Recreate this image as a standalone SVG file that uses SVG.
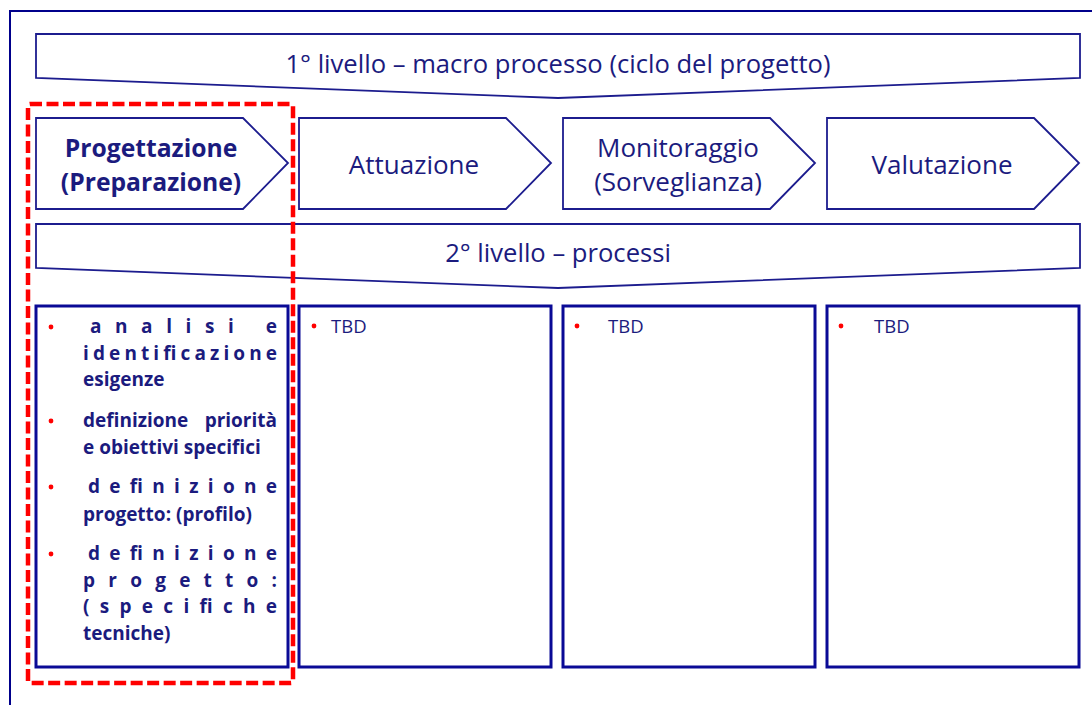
<svg xmlns="http://www.w3.org/2000/svg" width="1092" height="705" viewBox="0 0 1092 705">
<style>
.sh{fill:#fff;stroke:#1c1c8e;stroke-width:1.8;stroke-linejoin:miter}
.box{fill:#fff;stroke:#0a0a96;stroke-width:3}
.t{font-family:"Open Sans","Liberation Sans",sans-serif;fill:#1b1b7e}
.ban{font-size:25.6px}
.big{font-size:26px}
.bb{font-size:24.7px;font-weight:bold}
.bt{font-size:19px;font-weight:bold}
.st{font-size:18.5px}
.dot{fill:#ff0000}
</style>
<rect width="1092" height="705" fill="#fff"/>
<g id="frame"><rect x="10" y="11" width="1100" height="720" fill="none" stroke="#00008b" stroke-width="2"/></g>
<g id="level1">
<polygon class="sh" points="36,34 1080,34 1080,78 558,98 36,78"/>
<text class="t ban" x="558" y="73" text-anchor="middle">1° livello – macro processo (ciclo del progetto)</text>
</g>
<g id="progettazione">
<polygon class="sh" points="36,118 243,118 288,163 243,209 36,209"/>
<text class="t bb" x="151" y="157" text-anchor="middle">Progettazione</text>
<text class="t bb" x="151" y="191" text-anchor="middle">(Preparazione)</text>
</g>
<g id="attuazione">
<polygon class="sh" points="299,118 506,118 551,163 506,209 299,209"/>
<text class="t big" x="414" y="174" text-anchor="middle">Attuazione</text>
</g>
<g id="monitoraggio">
<polygon class="sh" points="563,118 770,118 815,163 770,209 563,209"/>
<text class="t big" x="678" y="157" text-anchor="middle">Monitoraggio</text>
<text class="t big" x="678" y="191" text-anchor="middle">(Sorveglianza)</text>
</g>
<g id="valutazione">
<polygon class="sh" points="827,118 1034,118 1079,163 1034,209 827,209"/>
<text class="t big" x="942" y="174" text-anchor="middle">Valutazione</text>
</g>
<g id="level2">
<polygon class="sh" points="36,224 1080,224 1080,268 558,288 36,268"/>
<text class="t ban" x="558" y="262" text-anchor="middle">2° livello – processi</text>
</g>
<g id="box1">
<rect class="box" x="36" y="306" width="252" height="361"/>
<circle class="dot" cx="51" cy="327" r="2.4"/>
<text class="t bt" x="90" y="333" textLength="187" lengthAdjust="spacing">analisi e</text>
<text class="t bt" x="83" y="360" textLength="194" lengthAdjust="spacing">identificazione</text>
<text class="t bt" x="83" y="386">esigenze</text>
<circle class="dot" cx="51" cy="421" r="2.4"/>
<text class="t bt" x="83" y="427">definizione</text>
<text class="t bt" x="277" y="427" text-anchor="end">priorità</text>
<text class="t bt" x="83" y="454">e obiettivi specifici</text>
<circle class="dot" cx="51" cy="487" r="2.4"/>
<text class="t bt" x="88" y="493" textLength="189" lengthAdjust="spacing">definizione</text>
<text class="t bt" x="83" y="521">progetto: (profilo)</text>
<circle class="dot" cx="51" cy="554" r="2.4"/>
<text class="t bt" x="88" y="560" textLength="189" lengthAdjust="spacing">definizione</text>
<text class="t bt" x="83" y="587" textLength="194" lengthAdjust="spacing">progetto:</text>
<text class="t bt" x="83" y="613" textLength="194" lengthAdjust="spacing">(specifiche</text>
<text class="t bt" x="83" y="640">tecniche)</text>
</g>
<g id="box2">
<rect class="box" x="299" y="306" width="252" height="361"/>
<circle class="dot" cx="314" cy="326" r="2.4"/>
<text class="t st" x="331" y="333">TBD</text>
</g>
<g id="box3">
<rect class="box" x="563" y="306" width="252" height="361"/>
<circle class="dot" cx="577" cy="326" r="2.4"/>
<text class="t st" x="608" y="333">TBD</text>
</g>
<g id="box4">
<rect class="box" x="827" y="306" width="252" height="361"/>
<circle class="dot" cx="841" cy="326" r="2.4"/>
<text class="t st" x="874" y="333">TBD</text>
</g>
<g id="highlight">
<rect x="28" y="104" width="265" height="579" rx="2" fill="none" stroke="#ff0000" stroke-width="4.5" stroke-dasharray="12 4.5"/>
</g>
<g id="connectors"></g>
</svg>
